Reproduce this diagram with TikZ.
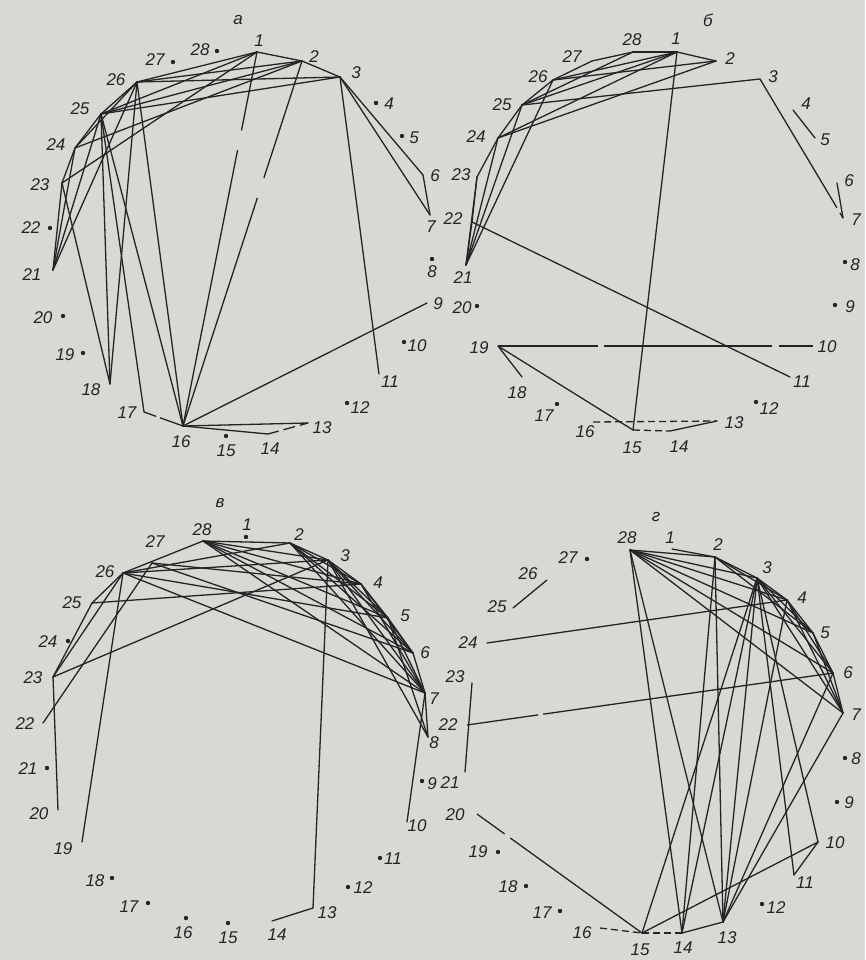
\documentclass[tikz,border=0pt]{standalone}
\usepackage{fontspec}
\setmainfont{Liberation Sans}
\definecolor{paper}{RGB}{214,217,212}
\definecolor{ink}{RGB}{36,36,36}
\begin{document}
\begin{tikzpicture}[x=1pt,y=-1pt,
  ln/.style={draw=ink,line width=1.3pt,line cap=round,line join=round},
  dl/.style={ln,line cap=butt,dash pattern=on 7pt off 4pt},
  lb/.style={text=ink,font=\fontsize{17}{17}\selectfont\itshape,inner sep=0pt},
  dotmark/.style={fill=ink}]
\useasboundingbox (0,0) rectangle (865,960);
\fill[paper] (0,0) rectangle (865,960);

% ===================== а =====================
\node[lb] (ta) at (238,20) {а};
\foreach \n/\x/\y/\lx/\ly in {1/257/52/259/41, 2/302/61/314/57, 3/340/77/356/73, 4/376/103/389/104,
  5/402/136/414/138, 6/423/175/435/176, 7/430/215/431/227, 8/432/259/432/272, 9/427/303/438/304,
  10/404/342/417/346, 11/379/374/390/382, 12/347/403/360/408, 13/308/423/322/428, 14/268/434/270/449,
  15/226/436/226/451, 16/183/426/181/442, 17/144/412/127/413, 18/110/384/91/390, 19/83/353/65/355,
  20/63/316/43/318, 21/53/270/32/275, 22/50/228/31/228, 23/62/183/40/185, 24/75/148/56/145,
  25/101/114/80/109, 26/137/82/116/80, 27/173/62/155/60, 28/217/51/200/50}
  {\coordinate (a\n) at (\x,\y); \node[lb] (la\n) at (\lx,\ly) {\n};}
\foreach \n in {4,5,8,10,12,15,19,20,22,27,28} \fill[dotmark] (a\n) circle[radius=2.2pt];
\foreach \u/\v in {1/2,2/3,1/26,2/26,3/26,1/25,2/25,3/25,25/26,24/25,23/24,1/23,2/24,24/26,
  21/23,21/24,21/25,21/26,18/23,18/25,18/26,17/25,16/25,16/26,3/6,6/7,3/7,3/11,9/16,13/16,14/16}
  \draw[ln] (a\u) -- (a\v);
\draw[ln,line cap=butt,dash pattern=on 80pt off 20pt on 400pt] (a1) -- (a16);
\draw[ln,line cap=butt,dash pattern=on 123pt off 21pt on 400pt] (a2) -- (a16);
\draw[ln,line cap=butt,dash pattern=on 13pt off 4pt on 60pt] (a17) -- (a16);
\draw[ln,line cap=butt,dash pattern=on 11pt off 5pt on 12pt off 5pt on 10pt] (a14) -- (a13);

% ===================== б =====================
\node[lb] (tb) at (708,20) {б};
\foreach \n/\x/\y/\lx/\ly in {1/677/52/676/39, 2/716/61/730/59, 3/760/79/773/77, 4/793/110/806/104,
  5/815/138/825/140, 6/837/183/849/181, 7/843/218/856/220, 8/845/262/855/265, 9/835/305/850/307,
  10/813/346/827/347, 11/790/377/802/382, 12/756/402/769/409, 13/717/421/734/423, 14/670/431/679/447,
  15/633/430/632/448, 16/593/422/585/432, 17/557/404/544/416, 18/522/377/517/393, 19/498/346/479/348,
  20/477/306/462/308, 21/466/265/463/278, 22/472/222/453/219, 23/477/177/461/175, 24/498/138/476/137,
  25/522/105/502/105, 26/553/80/538/77, 27/592/61/572/57, 28/633/52/632/40}
  {\coordinate (b\n) at (\x,\y); \node[lb] (lb\n) at (\lx,\ly) {\n};}
\foreach \n in {8,9,12,17,20} \fill[dotmark] (b\n) circle[radius=2.2pt];
\foreach \u/\v in {26/27,27/28,28/1,1/2,1/26,1/25,2/26,2/24,3/25,28/25,1/24,21/22,22/23,23/24,24/25,25/26,
  21/23,21/24,21/25,21/26,1/15,22/11,19/18,19/15,14/13,4/5,6/7}
  \draw[ln] (b\u) -- (b\v);
\draw[ln,line cap=butt,dash pattern=on 100pt off 6pt on 168pt off 7pt on 300pt] (b19) -- (b10);
\draw[ln,line cap=butt,dash pattern=on 150pt off 6pt on 12pt off 6pt on 200pt] (b3) -- (b7);
\draw[dl] (b16) -- (b13);
\draw[dl] (b15) -- (b14);

% ===================== в =====================
\node[lb] (tv) at (220,503) {в};
\foreach \n/\x/\y/\lx/\ly in {1/246/537/247/525, 2/290/543/299/535, 3/328/560/345/556, 4/361/584/378/583,
  5/388/618/405/616, 6/413/653/425/653, 7/425/693/434/699, 8/428/737/434/743, 9/422/781/432/784,
  10/407/822/417/826, 11/380/858/393/859, 12/348/887/363/888, 13/313/908/327/913, 14/272/921/277/935,
  15/228/923/228/938, 16/186/918/183/933, 17/148/903/129/907, 18/112/878/95/881, 19/82/842/63/849,
  20/58/810/39/814, 21/47/768/28/769, 22/43/723/25/724, 23/53/677/33/678, 24/68/641/48/642,
  25/92/603/72/603, 26/123/573/105/572, 27/152/563/155/542, 28/203/541/202/530}
  {\coordinate (v\n) at (\x,\y); \node[lb] (lv\n) at (\lx,\ly) {\n};}
\foreach \n in {1,9,11,12,15,16,17,18,21,24} \fill[dotmark] (v\n) circle[radius=2.2pt];
\foreach \u/\v in {26/28,28/2,2/3,3/4,4/5,5/6,6/7,7/8,25/26,23/25,23/26,20/23,19/26,22/27,23/3,25/4,
  26/2,26/3,26/5,26/7,27/4,27/6,28/3,28/4,28/5,28/6,28/7,2/4,2/5,2/6,2/7,3/5,3/6,3/7,3/8,
  4/6,4/7,5/7,5/8,3/13,13/14,10/7}
  \draw[ln] (v\u) -- (v\v);

% ===================== г =====================
\node[lb] (tg) at (656,517) {г};
\foreach \n/\x/\y/\lx/\ly in {1/672/549/670/538, 2/715/557/718/545, 3/757/578/767/568, 4/787/600/802/598,
  5/813/633/825/633, 6/833/673/848/673, 7/843/713/856/715, 8/845/758/856/759, 9/837/802/849/803,
  10/818/842/835/843, 11/794/875/805/883, 12/762/904/776/908, 13/723/922/727/938, 14/682/933/683/948,
  15/642/933/640/950, 16/600/928/582/933, 17/560/911/542/913, 18/526/886/508/887, 19/498/852/478/852,
  20/477/814/455/815, 21/465/772/450/783, 22/467/725/448/725, 23/472/683/455/677, 24/487/643/468/643,
  25/513/608/497/607, 26/547/580/528/574, 27/587/559/568/558, 28/630/550/627/538}
  {\coordinate (g\n) at (\x,\y); \node[lb] (lg\n) at (\lx,\ly) {\n};}
\foreach \n in {8,9,12,17,18,19,27} \fill[dotmark] (g\n) circle[radius=2.2pt];
\foreach \u/\v in {1/2,2/3,3/4,4/5,5/6,6/7,28/2,28/3,28/4,28/5,28/6,28/7,2/4,2/5,3/5,3/6,3/7,4/6,4/7,5/7,
  28/14,28/13,2/14,2/13,3/15,3/14,3/13,4/13,3/11,3/10,10/11,10/15,6/13,7/13,24/4,21/23,25/26,14/13}
  \draw[ln] (g\u) -- (g\v);
\draw[ln,line cap=butt,dash pattern=on 72pt off 5pt on 400pt] (g22) -- (g6);
\draw[ln,line cap=butt,dash pattern=on 34pt off 7pt on 300pt] (g20) -- (g15);
\draw[dl] (g16) -- (g15);
\draw[dl] (g15) -- (g14);
\end{tikzpicture}
\end{document}
